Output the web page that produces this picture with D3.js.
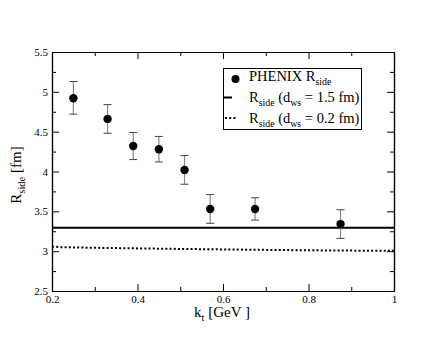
<!DOCTYPE html>
<html><head><meta charset="utf-8">
<script src="https://cdn.jsdelivr.net/npm/d3@7"></script>
<style>body{margin:0;background:#fff}svg{display:block}text{font-family:"Liberation Serif","DejaVu Serif",serif;fill:#000}</style>
</head><body><svg id="c" width="444" height="343"></svg>
<script>
const kt = [0.25, 0.33, 0.39, 0.45, 0.51, 0.57, 0.675, 0.875];
const rside = [4.92, 4.66, 4.32, 4.28, 4.02, 3.53, 3.53, 3.34];
const errLo = [4.72, 4.48, 4.15, 4.12, 3.84, 3.35, 3.39, 3.16];
const errHi = [5.13, 4.84, 4.49, 4.44, 4.20, 3.71, 3.67, 3.52];
const solidX = [0.2, 1.0];
const solidY = [3.295, 3.295];
const dotX = [0.2, 0.22, 0.3, 0.4, 0.5, 0.6, 0.7, 0.8, 0.9, 1.0];
const dotY = [3.058, 3.05, 3.042, 3.035, 3.028, 3.022, 3.016, 3.011, 3.007, 3.004];
const xTicks = [0.2, 0.4, 0.6, 0.8, 1];
const xTickLabels = ["0.2", "0.4", "0.6", "0.8", "1"];
const xMinor = [0.3, 0.5, 0.7, 0.9];
const yTicks = [2.5, 3, 3.5, 4, 4.5, 5, 5.5];
const yTickLabels = ["2.5", "3", "3.5", "4", "4.5", "5", "5.5"];
const yMinor = [2.75, 3.25, 3.75, 4.25, 4.75, 5.25];

const svg = d3.select("#c");
const L = 52, R = 394, T = 52, B = 291;
const x = d3.scaleLinear().domain([0.2, 1]).range([L, R]);
const y = d3.scaleLinear().domain([2.5, 5.5]).range([B, T]);
const SERIF = '"Liberation Serif","DejaVu Serif",serif';

svg.append("path").attr("d", d3.line().x((d,i)=>x(solidX[i])).y((d,i)=>y(solidY[i]))(solidX))
  .attr("fill","none").attr("stroke","#000").attr("stroke-width",2);
svg.append("path").attr("d", d3.line().x((d,i)=>x(dotX[i])).y((d,i)=>y(dotY[i]))(dotX))
  .attr("fill","none").attr("stroke","#000").attr("stroke-width",2).attr("stroke-dasharray","2,2.2");

function ax(gen, tx, ty, vals, size, fmt) {
  const g = svg.append("g").attr("transform", `translate(${tx},${ty})`)
    .call(gen.tickValues(vals).tickSize(size).tickSizeOuter(0).tickFormat(fmt));
  g.attr("font-family", SERIF).attr("font-size", 11);
  g.select(".domain").attr("stroke","#000").attr("stroke-width",1.2);
  g.selectAll(".tick line").attr("stroke","#000").attr("stroke-width",1);
  g.selectAll("text").attr("fill","#000");
  return g;
}
const none = () => "";
const gxb = ax(d3.axisBottom(x), 0, B, xTicks, -7, (d,i)=>xTickLabels[i]);
gxb.selectAll("text").attr("y", 4);
ax(d3.axisBottom(x), 0, B, xMinor, -4, none);
ax(d3.axisTop(x), 0, T, xTicks, -7, none);
ax(d3.axisTop(x), 0, T, xMinor, -4, none);
const gyl = ax(d3.axisLeft(y), L, 0, yTicks, -7, (d,i)=>yTickLabels[i]);
gyl.selectAll("text").attr("x", -4);
ax(d3.axisLeft(y), L, 0, yMinor, -4, none);
ax(d3.axisRight(y), R, 0, yTicks, -7, none);
ax(d3.axisRight(y), R, 0, yMinor, -4, none);

const eb = svg.append("g");
kt.forEach((k,i)=>{
  eb.append("line").attr("x1",x(k)).attr("x2",x(k)).attr("y1",y(errLo[i])).attr("y2",y(errHi[i])).attr("stroke","#888").attr("stroke-width",1.2);
  [errLo[i], errHi[i]].forEach(v=>eb.append("line").attr("x1",x(k)-4).attr("x2",x(k)+4).attr("y1",y(v)).attr("y2",y(v)).attr("stroke","#444").attr("stroke-width",1));
});
svg.append("g").selectAll("circle").data(kt).join("circle")
  .attr("cx",d=>x(d)).attr("cy",(d,i)=>y(rside[i])).attr("r",4.2).attr("fill","#000");

const lg = svg.append("g");
lg.append("rect").attr("x",223.5).attr("y",68.5).attr("width",138).attr("height",61).attr("fill","#fff").attr("stroke","#000").attr("stroke-width",1);
lg.append("circle").attr("cx",235.5).attr("cy",79).attr("r",4).attr("fill","#000");
lg.append("line").attr("x1",224).attr("x2",232).attr("y1",97.5).attr("y2",97.5).attr("stroke","#000").attr("stroke-width",2);
lg.append("line").attr("x1",225).attr("x2",236).attr("y1",118).attr("y2",118).attr("stroke","#000").attr("stroke-width",2).attr("stroke-dasharray","2,2.2");
function subText(g, xx, yy, parts, fs) {
  const t = g.append("text").attr("x",xx).attr("y",yy).attr("font-size",fs).attr("font-family",SERIF);
  parts.forEach(p=>{
    if (p[1]) t.append("tspan").text(p[0]).attr("font-size",fs*0.68).attr("dy",4);
    else t.append("tspan").text(p[0]).attr("dy", p[2]||0);
  });
  return t;
}
subText(lg, 249, 80.5, [["PHENIX R"],["side",1]], 14.5);
subText(lg, 249, 101.5, [["R"],["side",1],[" (d",0,-4],["ws",1],[" = 1.5 fm)",0,-4]], 14.5);
subText(lg, 249, 122.5, [["R"],["side",1],[" (d",0,-4],["ws",1],[" = 0.2 fm)",0,-4]], 14.5);

const xl = svg.append("text").attr("text-anchor","middle").attr("font-size",15).attr("font-family",SERIF).attr("x",222).attr("y",317);
xl.append("tspan").text("k");
xl.append("tspan").text("t").attr("font-size",10.5).attr("dy",4);
xl.append("tspan").text(" [GeV ]").attr("dy",-4);
const yl = svg.append("text").attr("text-anchor","middle").attr("font-size",15).attr("font-family",SERIF).attr("transform","translate(21,175) rotate(-90)");
yl.append("tspan").text("R");
yl.append("tspan").text("side").attr("font-size",10.5).attr("dy",4);
yl.append("tspan").text(" [fm]").attr("dy",-4);
</script></body></html>
